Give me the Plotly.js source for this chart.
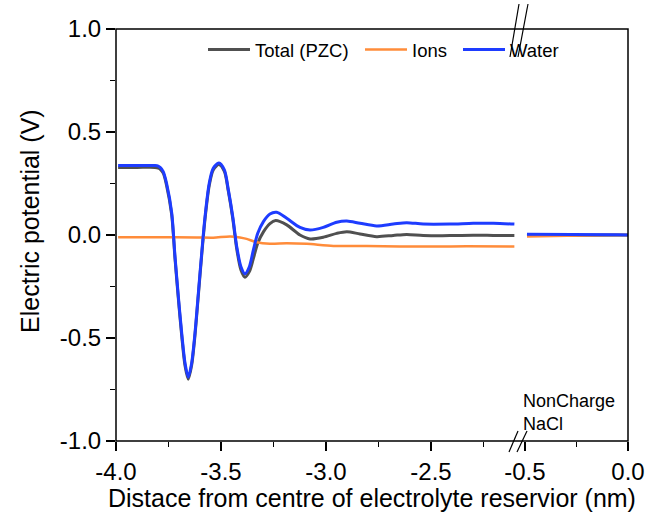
<!DOCTYPE html>
<html><head><meta charset="utf-8">
<script src="https://cdn.plot.ly/plotly-3.0.1.min.js"></script>
<style>html,body{margin:0;padding:0;background:#fff}#chart{width:646px;height:527px}</style>
</head><body><div id="chart"></div>
<script>
// ---------- data ----------
const seriesNames = ["Total (PZC)", "Ions", "Water"];

// left segment (x from -4.0 to about -2.1 nm)
const xWaterL = [-3.99,-3.90,-3.814,-3.799,-3.790,-3.775,-3.759,-3.735,-3.719,-3.703,-3.687,-3.671,-3.656,-3.640,-3.624,-3.608,-3.592,-3.576,-3.556,-3.537,-3.510,-3.484,-3.465,-3.444,-3.425,-3.405,-3.386,-3.365,-3.346,-3.325,-3.298,-3.267,-3.235,-3.187,-3.124,-3.076,-3.013,-2.949,-2.901,-2.838,-2.759,-2.680,-2.616,-2.537,-2.410,-2.299,-2.203,-2.103];
const yWaterL = [0.337,0.337,0.337,0.334,0.328,0.308,0.250,0.110,-0.105,-0.300,-0.478,-0.624,-0.690,-0.624,-0.478,-0.284,-0.089,0.089,0.251,0.324,0.349,0.316,0.219,0.089,-0.057,-0.154,-0.188,-0.154,-0.073,0.008,0.065,0.102,0.110,0.081,0.037,0.024,0.037,0.062,0.068,0.057,0.044,0.053,0.060,0.053,0.053,0.057,0.057,0.053];

const xTotalL = [-3.99,-3.90,-3.814,-3.799,-3.790,-3.775,-3.759,-3.735,-3.719,-3.703,-3.687,-3.671,-3.656,-3.640,-3.624,-3.608,-3.592,-3.576,-3.556,-3.537,-3.510,-3.484,-3.465,-3.444,-3.425,-3.405,-3.386,-3.365,-3.346,-3.325,-3.298,-3.267,-3.240,-3.187,-3.124,-3.076,-3.013,-2.949,-2.901,-2.838,-2.759,-2.680,-2.616,-2.537,-2.410,-2.299,-2.203,-2.103];
const yTotalL = [0.328,0.328,0.328,0.325,0.320,0.300,0.240,0.100,-0.115,-0.310,-0.490,-0.636,-0.700,-0.634,-0.488,-0.294,-0.099,0.079,0.241,0.316,0.342,0.309,0.212,0.080,-0.068,-0.170,-0.205,-0.178,-0.115,-0.040,0.015,0.055,0.070,0.049,0.000,-0.019,-0.011,0.008,0.016,0.005,-0.008,-0.002,0.003,-0.002,-0.003,-0.001,-0.002,-0.003];

const xIonsL = [-3.99,-3.80,-3.616,-3.537,-3.457,-3.410,-3.378,-3.330,-3.267,-3.187,-3.092,-2.965,-2.806,-2.648,-2.489,-2.330,-2.103];
const yIonsL = [-0.011,-0.011,-0.012,-0.013,-0.007,-0.012,-0.019,-0.035,-0.042,-0.040,-0.043,-0.053,-0.053,-0.056,-0.056,-0.055,-0.056];

// right segment (x from about -0.5 to 0.0 nm)
const xRight = [-0.49,-0.45,-0.40,-0.35,-0.30,-0.25,-0.20,-0.15,-0.10,-0.05,0.0];
const yWaterR = [0.004,0.004,0.004,0.003,0.003,0.003,0.002,0.002,0.001,0.001,0.000];
const yTotalR = [-0.002,-0.002,-0.001,-0.001,0.000,0.000,0.000,0.000,0.000,0.000,0.000];
const yIonsR = [-0.007,-0.006,-0.005,-0.004,-0.003,-0.002,-0.001,-0.001,0.000,0.000,0.000];

// ticks
const yTickVals = [-1,-0.5,0,0.5,1];
const yTickText = ["-1.0","-0.5","0.0","0.5","1.0"];
const yMinorVals = [-0.75,-0.25,0.25,0.75];
const xTickValsL = [-4,-3.5,-3,-2.5];
const xTickTextL = ["-4.0","-3.5","-3.0","-2.5"];
const xMinorValsL = [-3.75,-3.25,-2.75,-2.25];
const xTickValsR = [-0.5,0];
const xTickTextR = ["-0.5","0.0"];
const xMinorValsR = [-0.25];

// ---------- style ----------
const colors = {total:"#505050", ions:"#ff8c3a", water:"#1e3cff"};
const FONT = "Arial, 'Liberation Sans', sans-serif";
const W = 646, H = 527, ML = 116, MR = 18, MT = 29, MB = 86;
const PW = W - ML - MR, PH = H - MT - MB;
const px = x => (x - ML) / PW;
const py = y => (H - MB - y) / PH;
const brk = px(521);

const sp = {shape:"spline", smoothing:0.8};
const traces = [
  {x:xTotalL, y:yTotalL, name:seriesNames[0], mode:"lines", line:Object.assign({color:colors.total, width:3}, sp), xaxis:"x", yaxis:"y", legend:"legend"},
  {x:xIonsL, y:yIonsL, name:seriesNames[1], mode:"lines", line:Object.assign({color:colors.ions, width:2.5}, sp), xaxis:"x", yaxis:"y", legend:"legend2"},
  {x:xWaterL, y:yWaterL, name:seriesNames[2], mode:"lines", line:Object.assign({color:colors.water, width:3}, sp), xaxis:"x", yaxis:"y", legend:"legend3"},
  {x:xRight, y:yTotalR, name:seriesNames[0], mode:"lines", line:{color:colors.total, width:3}, xaxis:"x2", yaxis:"y", showlegend:false},
  {x:xRight, y:yIonsR, name:seriesNames[1], mode:"lines", line:{color:colors.ions, width:2.5}, xaxis:"x2", yaxis:"y", showlegend:false},
  {x:xRight, y:yWaterR, name:seriesNames[2], mode:"lines", line:{color:colors.water, width:3}, xaxis:"x2", yaxis:"y", showlegend:false}
];

const tickFont = {family:FONT, size:24, color:"#000"};
const minorBase = {ticks:"outside", ticklen:5, tickwidth:1.5, tickcolor:"#000"};
const legBase = {orientation:"h", xanchor:"left", y:0.995, yanchor:"top", font:{family:FONT, size:18.5, color:"#000"}, bgcolor:"rgba(0,0,0,0)", itemwidth:42};
const layout = {
  width:W, height:H,
  margin:{l:ML, r:MR, t:MT, b:MB},
  paper_bgcolor:"#fff", plot_bgcolor:"#fff",
  font:{family:FONT, color:"#000"},
  showlegend:true,
  legend:Object.assign({x:px(208 - 5)}, legBase),
  legend2:Object.assign({x:px(365 - 5)}, legBase),
  legend3:Object.assign({x:px(463 - 5)}, legBase),
  xaxis:{domain:[0, brk], range:[-4, -4 + 405/210], anchor:"y", showgrid:false, zeroline:false, showline:false,
         tickmode:"array", tickvals:xTickValsL, ticktext:xTickTextL, ticks:"outside", ticklen:9, tickwidth:1.5, tickcolor:"#000", tickfont:tickFont,
         minor:Object.assign({tickmode:"array", tickvals:xMinorValsL}, minorBase)},
  xaxis2:{domain:[brk, 1], range:[-0.519, 0], anchor:"y", showgrid:false, zeroline:false, showline:false,
         tickmode:"array", tickvals:xTickValsR, ticktext:xTickTextR, ticks:"outside", ticklen:9, tickwidth:1.5, tickcolor:"#000", tickfont:tickFont,
         minor:Object.assign({tickmode:"array", tickvals:xMinorValsR}, minorBase)},
  yaxis:{domain:[0,1], range:[-1, 1], anchor:"x", showgrid:false, zeroline:false, showline:false,
         tickmode:"array", tickvals:yTickVals, ticktext:yTickText, ticks:"outside", ticklen:9, tickwidth:1.5, tickcolor:"#000", tickfont:tickFont,
         minor:Object.assign({tickmode:"array", tickvals:yMinorVals}, minorBase)},
  shapes:[
    {type:"rect", xref:"paper", yref:"paper", x0:0, x1:1, y0:0, y1:1, line:{color:"#000", width:1.5}, fillcolor:"rgba(0,0,0,0)", layer:"above"},
    // axis break marks (bottom)
    {type:"line", xref:"paper", yref:"paper", x0:px(509), x1:px(518), y0:py(452), y1:py(431), line:{color:"#000", width:1.2}},
    {type:"line", xref:"paper", yref:"paper", x0:px(517), x1:px(527), y0:py(452), y1:py(431), line:{color:"#000", width:1.2}},
    // axis break marks (top)
    {type:"line", xref:"paper", yref:"paper", x0:px(510), x1:px(519), y0:py(57), y1:py(4), line:{color:"#000", width:1.2}},
    {type:"line", xref:"paper", yref:"paper", x0:px(518), x1:px(528), y0:py(57), y1:py(4), line:{color:"#000", width:1.2}}
  ],
  annotations:[
    {text:"Distace from centre of electrolyte reservior (nm)", xref:"paper", yref:"paper", x:px(372), y:py(498), xanchor:"center", yanchor:"middle", showarrow:false, font:{family:FONT, size:25, color:"#000"}},
    {text:"Electric potential (V)", xref:"paper", yref:"paper", x:px(30), y:py(221), xanchor:"center", yanchor:"middle", textangle:-90, showarrow:false, font:{family:FONT, size:25, color:"#000"}},
    {text:"NonCharge<br>NaCl", xref:"paper", yref:"paper", x:px(521), y:py(412), xanchor:"left", yanchor:"middle", align:"left", showarrow:false, font:{family:FONT, size:18, color:"#000"}}
  ]
};

Plotly.newPlot("chart", traces, layout, {displayModeBar:false, staticPlot:true});
</script>
</body></html>
